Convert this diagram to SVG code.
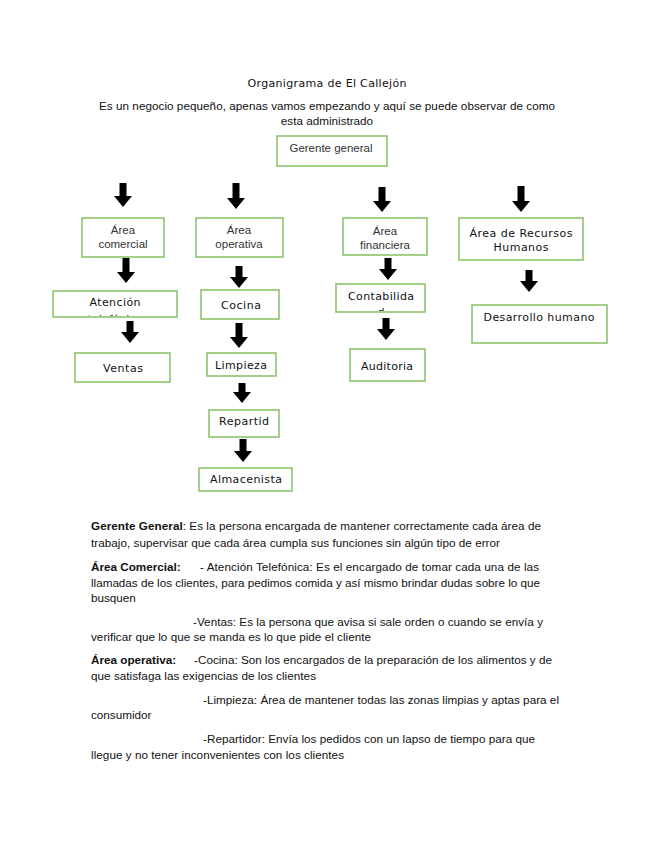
<svg xmlns="http://www.w3.org/2000/svg" width="655" height="848" viewBox="0 0 655 848">
<style>
.box{fill:#fff;stroke:#8dc46b;stroke-width:1.6}
.lab{font-family:"Liberation Sans",Arial,sans-serif;font-size:11.5px;fill:#333;text-anchor:middle}
.labd{font-family:"DejaVu Sans",sans-serif;font-size:11px;fill:#111;text-anchor:middle}
.body{font-family:"Liberation Sans",Arial,sans-serif;font-size:11.7px;fill:#111}
.b{font-weight:bold}
.arr{fill:#000}
</style>
<defs>
<clipPath id="clipAt"><rect x="54" y="292" width="122" height="24"/></clipPath>
<clipPath id="clipCo"><rect x="337" y="285" width="87" height="26"/></clipPath>
</defs>
<rect width="655" height="848" fill="#fff"/>

<g id="header">
<text x="327" y="87" class="labd" textLength="159" lengthAdjust="spacing">Organigrama de El Callejón</text>
<text x="327" y="110" class="body" text-anchor="middle" textLength="456" lengthAdjust="spacing">Es un negocio pequeño, apenas vamos empezando y aquí se puede observar de como</text>
<text x="327" y="125" class="body" text-anchor="middle">esta administrado</text>
</g>

<g id="gerente">
<rect class="box" x="277" y="136" width="110" height="30"/>
<text x="331" y="152" class="lab">Gerente general</text>
</g>

<g id="area-comercial">
<rect class="box" x="82" y="218" width="82" height="39"/>
<text x="123" y="234" class="lab">Área</text>
<text x="123" y="248" class="lab">comercial</text>
</g>
<g id="area-operativa">
<rect class="box" x="196" y="218" width="87" height="39"/>
<text x="239" y="234" class="lab">Área</text>
<text x="239" y="248" class="lab">operativa</text>
</g>
<g id="area-financiera">
<rect class="box" x="343" y="218" width="84" height="37"/>
<text x="385" y="235" class="lab">Área</text>
<text x="385" y="249" class="lab">financiera</text>
</g>
<g id="area-rh">
<rect class="box" x="459" y="218" width="124" height="42"/>
<text x="521" y="237" class="labd" textLength="103" lengthAdjust="spacing">Área de Recursos</text>
<text x="521" y="251" class="labd" textLength="55" lengthAdjust="spacing">Humanos</text>
</g>

<g id="atencion">
<rect class="box" x="53" y="291" width="124" height="26"/>
<text x="115" y="306" class="labd" textLength="51" lengthAdjust="spacing">Atención</text>
<text x="115" y="323" class="labd" clip-path="url(#clipAt)">telefónica</text>
</g>
<g id="ventas">
<rect class="box" x="75" y="353" width="95" height="29"/>
<text x="123" y="372" class="labd" textLength="40" lengthAdjust="spacing">Ventas</text>
</g>
<g id="cocina">
<rect class="box" x="201" y="290" width="78" height="29"/>
<text x="241" y="309" class="labd" textLength="40" lengthAdjust="spacing">Cocina</text>
</g>
<g id="limpieza">
<rect class="box" x="207" y="353" width="69" height="23"/>
<text x="241" y="369" class="labd" textLength="52" lengthAdjust="spacing">Limpieza</text>
</g>
<g id="repartid">
<rect class="box" x="209" y="410" width="70" height="27"/>
<text x="244" y="425" class="labd" textLength="50" lengthAdjust="spacing">Repartid</text>
</g>
<g id="almacenista">
<rect class="box" x="199" y="468" width="93" height="23"/>
<text x="246" y="483" class="labd" textLength="72" lengthAdjust="spacing">Almacenista</text>
</g>
<g id="contabilidad">
<rect class="box" x="336" y="284" width="89" height="28"/>
<text x="381" y="300" class="labd" textLength="66" lengthAdjust="spacing">Contabilida</text>
<text x="381" y="316" class="labd" clip-path="url(#clipCo)">d</text>
</g>
<g id="auditoria">
<rect class="box" x="350" y="349" width="75" height="32"/>
<text x="387" y="370" class="labd" textLength="52" lengthAdjust="spacing">Auditoria</text>
</g>
<g id="desarrollo">
<rect class="box" x="472" y="305" width="135" height="38"/>
<text x="539" y="321" class="labd" textLength="111" lengthAdjust="spacing">Desarrollo humano</text>
</g>

<g id="connectors" class="arr">
<path d="M119.5 183H126.5V196H132L123 207L114 196H119.5Z"/>
<path d="M232.5 183H239.5V198H245L236 209L227 198H232.5Z"/>
<path d="M378.5 187H385.5V201H391L382 212L373 201H378.5Z"/>
<path d="M517.5 186H524.5V201H530L521 212L512 201H517.5Z"/>
<path d="M122.5 258H129.5V272H135L126 283L117 272H122.5Z"/>
<path d="M126.5 321H133.5V332H139L130 343L121 332H126.5Z"/>
<path d="M235.5 266H242.5V277H248L239 288L230 277H235.5Z"/>
<path d="M235.5 323H242.5V337H248L239 348L230 337H235.5Z"/>
<path d="M238.5 383H245.5V392H251L242 403L233 392H238.5Z"/>
<path d="M239.5 439H246.5V451H252L243 462L234 451H239.5Z"/>
<path d="M384.5 258H391.5V269H397L388 280L379 269H384.5Z"/>
<path d="M382.5 318H389.5V329H395L386 340L377 329H382.5Z"/>
<path d="M525.5 270H532.5V281H538L529 292L520 281H525.5Z"/>
</g>

<g id="description" class="body">
<text x="91" y="530" textLength="450" lengthAdjust="spacing"><tspan class="b">Gerente General</tspan>: Es la persona encargada de mantener correctamente cada área de</text>
<text x="91" y="547" textLength="409" lengthAdjust="spacing">trabajo, supervisar que cada área cumpla sus funciones sin algún tipo de error</text>
<text x="91" y="571" class="b">Área Comercial:</text>
<text x="200" y="571" textLength="339" lengthAdjust="spacing">- Atención Telefónica: Es el encargado de tomar cada una de las</text>
<text x="91" y="587" textLength="449" lengthAdjust="spacing">llamadas de los clientes, para pedimos comida y así mismo brindar dudas sobre lo que</text>
<text x="91" y="602">busquen</text>
<text x="193" y="626" textLength="350" lengthAdjust="spacing">-Ventas: Es la persona que avisa si sale orden o cuando se envía y</text>
<text x="91" y="641" textLength="280" lengthAdjust="spacing">verificar que lo que se manda es lo que pide el cliente</text>
<text x="91" y="664" class="b">Área operativa:</text>
<text x="194" y="664" textLength="358" lengthAdjust="spacing">-Cocina: Son los encargados de la preparación de los alimentos y de</text>
<text x="91" y="680" textLength="225" lengthAdjust="spacing">que satisfaga las exigencias de los clientes</text>
<text x="203" y="704" textLength="356" lengthAdjust="spacing">-Limpieza: Área de mantener todas las zonas limpias y aptas para el</text>
<text x="91" y="719">consumidor</text>
<text x="203" y="743" textLength="332" lengthAdjust="spacing">-Repartidor: Envía los pedidos con un lapso de tiempo para que</text>
<text x="91" y="759" textLength="253" lengthAdjust="spacing">llegue y no tener inconvenientes con los clientes</text>
</g>
</svg>
